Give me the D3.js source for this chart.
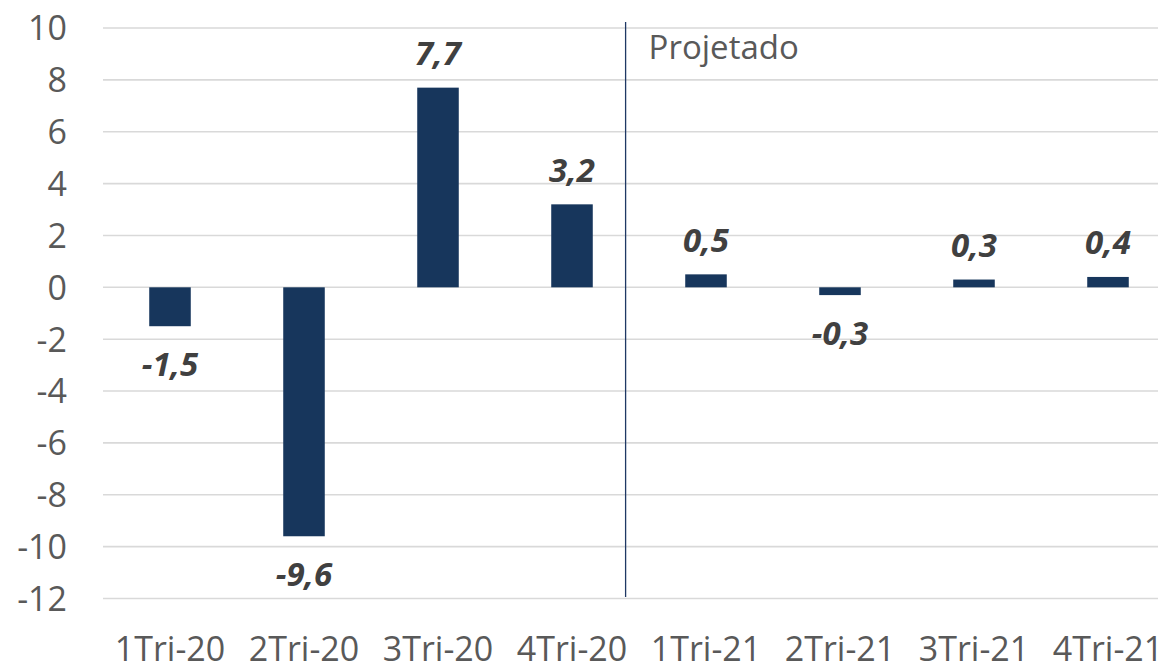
<!DOCTYPE html>
<html>
<head>
<meta charset="utf-8">
<script src="https://cdn.jsdelivr.net/npm/d3@7"></script>
<style>
  html, body { margin: 0; padding: 0; background: #fff; }
  svg { display: block; }
</style>
</head>
<body>
<svg id="chart" width="1158" height="665"></svg>
<script>
// Quarterly GDP change (% q/q), realised and projected
const categories = ["1Tri-20", "2Tri-20", "3Tri-20", "4Tri-20", "1Tri-21", "2Tri-21", "3Tri-21", "4Tri-21"];
const values = [-1.5, -9.6, 7.7, 3.2, 0.5, -0.3, 0.3, 0.4];
const yTicks = [10, 8, 6, 4, 2, 0, -2, -4, -6, -8, -10, -12];
const projectedLabel = "Projetado";

const svg = d3.select("#chart");
const fontFamily = "'Open Sans', 'Noto Sans', sans-serif";

const plot = { left: 103, right: 1175, top: 28, bottom: 598.5 };

const x = d3.scaleBand()
  .domain(categories)
  .range([plot.left, plot.right])
  .paddingInner(0.69)
  .paddingOuter(0.345);

const y = d3.scaleLinear()
  .domain([-12, 10])
  .range([plot.bottom, plot.top]);

// Horizontal gridlines
svg.append("g")
  .selectAll("line")
  .data(yTicks)
  .join("line")
  .attr("x1", plot.left)
  .attr("x2", plot.right)
  .attr("y1", d => y(d))
  .attr("y2", d => y(d))
  .attr("stroke", "#d9d9d9")
  .attr("stroke-width", 1.6);

// Y axis labels
const yAxis = d3.axisLeft(y).tickValues(yTicks).tickSize(0).tickPadding(0)
  .tickFormat(d => String(d).replace("−", "-"));
svg.append("g")
  .attr("transform", "translate(67,0)")
  .call(yAxis)
  .call(g => g.select(".domain").remove())
  .call(g => g.selectAll("text")
    .attr("fill", "#595959")
    .attr("font-family", fontFamily)
    .attr("font-size", 34)
    .attr("dy", "0.35em"));

// X axis labels
const xAxis = d3.axisBottom(x).tickSize(0).tickPadding(0);
svg.append("g")
  .attr("transform", "translate(0,661)")
  .call(xAxis)
  .call(g => g.select(".domain").remove())
  .call(g => g.selectAll("text")
    .attr("fill", "#595959")
    .attr("font-family", fontFamily)
    .attr("font-size", 34)
    .attr("y", 0)
    .attr("dy", 0));

// Bars
const data = categories.map((c, i) => ({ cat: c, value: values[i] }));
svg.append("g")
  .selectAll("rect")
  .data(data)
  .join("rect")
  .attr("x", d => x(d.cat))
  .attr("width", x.bandwidth())
  .attr("y", d => y(Math.max(0, d.value)))
  .attr("height", d => Math.abs(y(d.value) - y(0)))
  .attr("fill", "#17365c");

// Divider between realised and projected quarters
const divX = x(categories[3]) + x.bandwidth() / 2 + x.step() * 0.4;
svg.append("line")
  .attr("x1", divX).attr("x2", divX)
  .attr("y1", 22).attr("y2", 597)
  .attr("stroke", "#1f3864")
  .attr("stroke-width", 1.3);

svg.append("text")
  .attr("x", divX + 23)
  .attr("y", 59)
  .attr("fill", "#595959")
  .attr("font-family", fontFamily)
  .attr("font-size", 33)
  .text(projectedLabel);

// Value labels
const fmt = v => v.toFixed(1).replace(".", ",");
svg.append("g")
  .selectAll("text")
  .data(data)
  .join("text")
  .attr("x", d => x(d.cat) + x.bandwidth() / 2)
  .attr("y", d => d.value >= 0 ? y(d.value) - 22.5 : y(d.value) + 50)
  .attr("text-anchor", "middle")
  .attr("fill", "#404040")
  .attr("font-family", fontFamily)
  .attr("font-size", 33)
  .attr("font-weight", "bold")
  .attr("font-style", "italic")
  .text(d => fmt(d.value));
</script>
</body>
</html>
